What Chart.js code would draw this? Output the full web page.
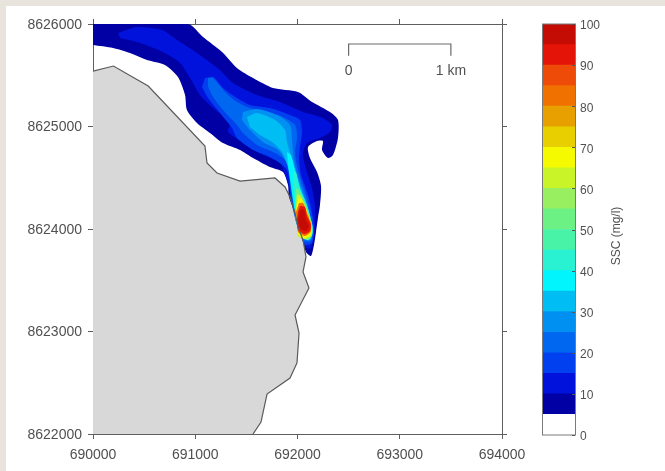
<!DOCTYPE html>
<html>
<head>
<meta charset="utf-8">
<title>SSC plume</title>
<script src="https://cdn.jsdelivr.net/npm/chart.js@4/dist/chart.umd.min.js"></script>
<style>
  html, body { margin: 0; padding: 0; background: #e9e3de; }
  #page { position: absolute; left: 6px; top: 6px; width: 659px; height: 465px; background: #fff; }
  canvas { position: absolute; }
  #map { left: 0; top: 0; }
  #bar { left: 500px; top: 0; }
</style>
</head>
<body>
<div id="page"></div>
<canvas id="map" width="665" height="471"></canvas>
<canvas id="bar" width="165" height="471"></canvas>
<script>
// coordinates are easting, northing in metres
const xTicks = [690000, 691000, 692000, 693000, 694000];
const yTicks = [8622000, 8623000, 8624000, 8625000, 8626000];

const coast = [[690000,8625540],[690200,8625590],[690540,8625395],[691095,8624810],[691115,8624644],[691213,8624546],[691438,8624468],[691780,8624498],[691878,8624410],[691927,8624312],[691976,8624156],[692005,8624020],[692054,8623893],[692083,8623727],[692054,8623581],[692112,8623424],[691976,8623161],[692015,8622985],[691995,8622693],[691927,8622546],[691702,8622390],[691643,8622117],[691565,8622000]];
const landCorners = [[690000,8622000]];

const scaleBarX = [692500, 692500, 693500, 693500];
const scaleBarY = [8625690, 8625805, 8625805, 8625690];

// contour outlines, named by lower SSC limit
const ssc5 = [[690000,8626000],[690929,8626000],[691076,8625873],[691262,8625727],[691408,8625571],[691565,8625473],[691760,8625376],[692005,8625337],[692142,8625239],[692318,8625141],[692396,8625063],[692396,8624888],[692347,8624722],[692298,8624693],[692240,8624771],[692249,8624859],[692191,8624859],[692103,8624800],[692122,8624693],[692191,8624556],[692230,8624420],[692220,8624234],[692200,8624107],[692181,8623971],[692161,8623844],[692132,8623737],[692083,8623776],[692044,8623922],[691976,8624156],[691917,8624312],[691907,8624429],[691858,8624556],[691731,8624605],[691565,8624693],[691438,8624771],[691271,8624839],[691144,8624937],[691017,8625034],[690919,8625161],[690900,8625307],[690831,8625483],[690704,8625600],[690528,8625649],[690362,8625717],[690196,8625766],[690000,8625795]];
const ssc10 = [[690245,8625912],[690430,8625971],[690675,8625941],[690822,8625844],[691017,8625717],[691242,8625551],[691369,8625424],[691604,8625307],[691829,8625239],[692054,8625141],[692249,8625083],[692337,8625015],[692318,8624946],[692220,8624888],[692093,8624839],[692054,8624722],[692093,8624556],[692142,8624400],[692171,8624234],[692171,8624088],[692161,8623941],[692132,8623815],[692083,8623815],[691995,8624117],[691946,8624312],[691897,8624478],[691829,8624644],[691663,8624722],[691506,8624820],[691320,8624946],[691340,8625044],[691174,8625180],[691046,8625307],[690949,8625473],[690851,8625620],[690685,8625727],[690460,8625815],[690264,8625863]];
const ssc15 = [[691095,8625473],[691174,8625483],[691271,8625376],[691408,8625278],[691535,8625210],[691731,8625180],[691927,8625112],[692024,8625063],[692044,8624937],[692024,8624800],[692015,8624673],[692034,8624527],[692103,8624332],[692142,8624156],[692161,8623990],[692142,8623863],[692073,8623844],[691995,8624039],[691936,8624283],[691897,8624576],[691731,8624702],[691565,8624771],[691408,8624888],[691359,8624985],[691242,8625132],[691125,8625278],[691066,8625385]];
const ssc20 = [[691125,8625473],[691174,8625473],[691291,8625337],[691408,8625239],[691535,8625180],[691702,8625141],[691858,8625093],[691976,8625015],[691995,8624898],[691976,8624741],[692005,8624576],[692083,8624332],[692122,8624156],[692152,8623990],[692132,8623883],[692064,8623883],[691995,8624068],[691946,8624312],[691917,8624556],[691878,8624673],[691760,8624751],[691604,8624820],[691467,8624937],[691408,8625015],[691271,8625161],[691174,8625288],[691125,8625385]];
const ssc25 = [[691467,8625141],[691604,8625171],[691800,8625112],[691927,8625015],[691946,8624868],[691956,8624741],[691985,8624576],[692064,8624332],[692112,8624166],[692152,8623990],[692122,8623893],[692054,8623902],[691995,8624068],[691956,8624312],[691936,8624527],[691897,8624644],[691809,8624771],[691663,8624849],[691535,8624966],[691457,8625063]];
const ssc30 = [[691506,8625093],[691604,8625132],[691780,8625063],[691878,8624966],[691897,8624849],[691927,8624741],[691956,8624576],[692044,8624332],[692103,8624166],[692152,8623990],[692122,8623893],[692054,8623912],[691985,8624068],[691966,8624312],[691936,8624498],[691907,8624605],[691848,8624751],[691751,8624849],[691633,8624917],[691535,8624995]];
const ssc35 = [[691897,8624751],[691936,8624722],[691976,8624576],[692034,8624380],[692093,8624234],[692145,8624039],[692145,8623961],[692122,8623902],[692054,8623922],[691985,8624088],[691956,8624283],[691927,8624478],[691907,8624624]];
const ssc40 = [[691956,8624556],[691985,8624556],[692024,8624380],[692083,8624254],[692143,8624039],[692143,8623951],[692112,8623912],[692054,8623932],[691995,8624088],[691976,8624283],[691956,8624429]];
const ssc50 = [[691985,8624400],[692015,8624380],[692073,8624254],[692141,8624039],[692141,8623941],[692103,8623893],[692054,8623912],[691995,8624068],[691976,8624234]];
const ssc60 = [[691995,8624332],[692024,8624332],[692073,8624234],[692139,8624039],[692135,8623932],[692073,8623902],[692005,8623932],[691995,8624068],[691985,8624205]];
const ssc65 = [[692005,8624293],[692034,8624293],[692073,8624215],[692137,8624039],[692130,8623951],[692073,8623912],[692005,8623951],[691995,8624068],[691985,8624185]];
const ssc80 = [[692015,8624254],[692054,8624254],[692083,8624185],[692135,8624039],[692128,8623971],[692073,8623932],[692005,8623971],[691995,8624068],[691985,8624166]];
const ssc90 = [[692024,8624224],[692073,8624215],[692093,8624127],[692130,8624049],[692122,8623981],[692064,8623951],[692005,8624000],[691995,8624088],[692005,8624166]];
const ssc95 = [[692024,8624185],[692064,8624185],[692083,8624088],[692112,8624029],[692083,8623981],[692034,8624000],[692005,8624068]];

// colour bar, one entry per 5 mg/l from the bottom
const barLevels = [0,5,10,15,20,25,30,35,40,45,50,55,60,65,70,75,80,85,90,95];
const barColors = ['#ffffff','#0000a4','#0012dc','#0040ee','#0068f0','#0090f2','#00bef4','#00f6fc','#28f2d2','#48f2a6','#6cf284','#98f060','#c8f428','#f6fa00','#e8d000','#e8a000','#f07000','#ee4a08','#e41408','#c40c04'];
const barTicks = [0,10,20,30,40,50,60,70,80,90,100];

const plumes = [
  [ssc5, 5], [ssc10, 10], [ssc15, 15], [ssc20, 20], [ssc25, 25], [ssc30, 30], [ssc35, 35],
  [ssc40, 40], [ssc50, 50], [ssc60, 60], [ssc65, 65], [ssc80, 80], [ssc90, 90], [ssc95, 95]
];

const textColor = '#505050';
const lineColor = '#5f5f5f';

function toPoints(list) {
  return list.map(function (p) { return { x: p[0], y: p[1] }; });
}

function colorFor(level) {
  return barColors[barLevels.indexOf(level)];
}

const mapDatasets = [];
mapDatasets.push({
  data: toPoints(coast.concat(landCorners)),
  showLine: true, fill: 'shape', backgroundColor: '#d8d8d8', borderWidth: 0, pointRadius: 0
});
plumes.forEach(function (p) {
  mapDatasets.push({
    data: toPoints(p[0]),
    showLine: true, fill: 'shape', tension: 0.25,
    backgroundColor: colorFor(p[1]), borderWidth: 0, pointRadius: 0
  });
});
mapDatasets.push({
  data: toPoints(coast),
  showLine: true, fill: false, borderColor: '#5a5a5a', borderWidth: 1.2, pointRadius: 0
});
mapDatasets.push({
  data: scaleBarX.map(function (x, i) { return { x: x, y: scaleBarY[i] }; }),
  showLine: true, fill: false, borderColor: '#6a6a6a', borderWidth: 1.2, pointRadius: 0
});
// later datasets go on top
mapDatasets.forEach(function (d, i) { d.order = -i; });

const scaleText = {
  id: 'scaleText',
  afterDraw(chart) {
    const c = chart.ctx;
    c.save();
    c.fillStyle = textColor;
    c.font = '14px "Liberation Sans", Arial, sans-serif';
    c.textAlign = 'center';
    c.textBaseline = 'middle';
    const py = chart.scales.y.getPixelForValue(8625540);
    c.fillText('0', chart.scales.x.getPixelForValue(scaleBarX[0]), py);
    c.fillText('1 km', chart.scales.x.getPixelForValue(scaleBarX[2]), py);
    c.restore();
  }
};

function axis(position, min, max, size, showLabels) {
  const horizontal = position === 'top' || position === 'bottom';
  return {
    type: 'linear', position: position, min: min, max: max,
    afterBuildTicks(scale) {
      scale.ticks = (scale.axis === 'x' ? xTicks : yTicks).map(function (v) { return { value: v }; });
    },
    afterFit(scale) {
      if (scale.isHorizontal()) scale.height = size; else scale.width = size;
    },
    border: { display: true, color: lineColor, width: 1 },
    grid: { drawOnChartArea: false, drawTicks: true, tickLength: 5, color: lineColor, tickColor: lineColor },
    ticks: {
      display: showLabels, padding: horizontal ? 8 : 6, labelOffset: horizontal ? 0 : 1,
      color: textColor, autoSkip: false, maxRotation: 0,
      font: { family: '"Liberation Sans", Arial, sans-serif', size: 14 },
      callback: function (v) { return String(v); }
    }
  };
}

new Chart(document.getElementById('map').getContext('2d'), {
  type: 'scatter',
  data: { datasets: mapDatasets },
  plugins: [scaleText],
  options: {
    responsive: false,
    animation: false,
    layout: { padding: 0 },
    plugins: { legend: { display: false }, tooltip: { enabled: false } },
    scales: {
      x: axis('bottom', 690000, 694000, 37, true),
      x2: axis('top', 690000, 694000, 24, false),
      y: axis('left', 8622000, 8626000, 93, true),
      y2: axis('right', 8622000, 8626000, 163, false)
    }
  }
});

const barFrame = {
  id: 'barFrame',
  afterDraw(chart) {
    const c = chart.ctx;
    const a = chart.chartArea;
    const y = chart.scales.y;
    c.save();
    c.strokeStyle = '#7a7a7a';
    c.lineWidth = 1;
    c.strokeRect(a.left - 0.5, a.top, a.right - a.left + 1, a.bottom - a.top);
    c.strokeStyle = '#555555';
    barTicks.forEach(function (v) {
      const py = Math.round(y.getPixelForValue(v)) + 0.5;
      c.beginPath();
      c.moveTo(a.right - 3, py);
      c.lineTo(a.right, py);
      c.stroke();
    });
    c.fillStyle = textColor;
    c.font = '12px "Liberation Sans", Arial, sans-serif';
    c.textAlign = 'center';
    c.textBaseline = 'middle';
    c.translate(117, 236);
    c.rotate(-Math.PI / 2);
    c.fillText('SSC (mg/l)', 0, 0);
    c.restore();
  }
};

new Chart(document.getElementById('bar').getContext('2d'), {
  type: 'bar',
  data: {
    labels: ['SSC'],
    datasets: barLevels.map(function (lv, i) {
      return {
        data: [5], backgroundColor: barColors[i], borderWidth: 0,
        barPercentage: 1, categoryPercentage: 1, stack: 'a'
      };
    })
  },
  plugins: [barFrame],
  options: {
    responsive: false,
    animation: false,
    layout: { padding: { left: 43, top: 24, bottom: 36 } },
    plugins: { legend: { display: false }, tooltip: { enabled: false } },
    scales: {
      x: { display: false, stacked: true },
      y: {
        position: 'right', stacked: true, min: 0, max: 100,
        afterBuildTicks(scale) {
          scale.ticks = barTicks.map(function (v) { return { value: v }; });
        },
        afterFit(scale) { scale.width = 90; },
        border: { display: false },
        grid: { drawOnChartArea: false, drawTicks: false },
        ticks: {
          padding: 5, labelOffset: 2, color: textColor,
          font: { family: '"Liberation Sans", Arial, sans-serif', size: 12 }
        }
      }
    }
  }
});
</script>
</body>
</html>
